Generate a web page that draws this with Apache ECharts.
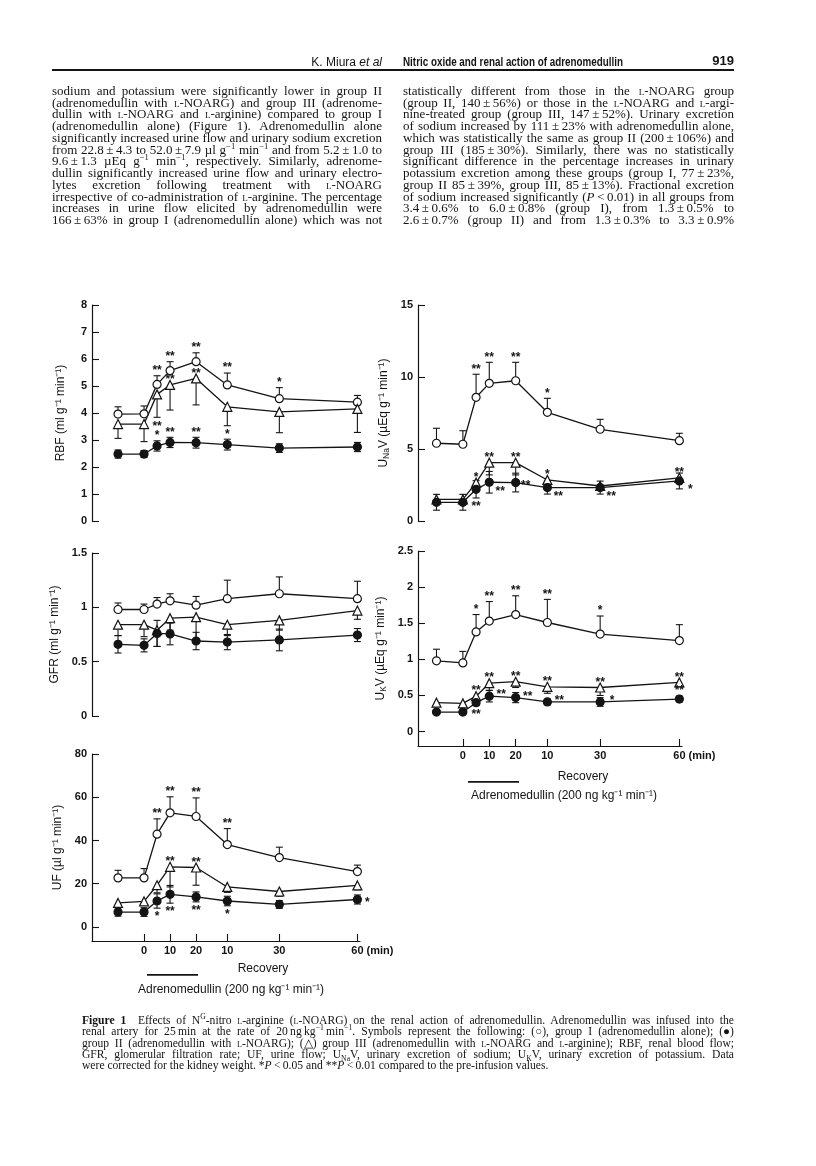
<!DOCTYPE html>
<html>
<head>
<meta charset="utf-8">
<script src="https://cdn.jsdelivr.net/npm/echarts@6/dist/echarts.min.js"></script>
<style>
html,body{margin:0;padding:0;background:#fff;}
#page{position:relative;width:816px;height:1166px;overflow:hidden;background:#fff;}
#chart{position:absolute;left:0;top:0;width:816px;height:1166px;}
.ln{position:absolute;white-space:nowrap;font-family:"Liberation Serif","Times New Roman",serif;color:#141414;}
.ln > span{white-space:nowrap;}
.body{font-size:13px;line-height:13px;}
.cap{font-size:11.6px;line-height:11.6px;}
.sc{font-variant:small-caps;}
sup,sub{font-size:0.66em;line-height:0;}
.hd{position:absolute;white-space:nowrap;font-family:"Liberation Sans Narrow","Liberation Sans",Arial,sans-serif;color:#141414;font-size:12px;line-height:12px;}
</style>
</head>
<body>
<div id="page">
<div id="chart"></div>
<div id="text"></div>
</div>
<script>
// ---------------- data ----------------
const timePoints  = [-10, 0, 5, 10, 20, 32, 52, 82];   // pre, infusion 0/5/10/20, recovery 10/30/60
const xTickValues = [0, 10, 20, 32, 52, 82];
const xTickLabels = ['0', '10', '20', '10', '30', '60'];

// RBF (ml g-1 min-1)
const rbfI      = [3.96, 3.97, 5.06, 5.57, 5.90, 5.04, 4.53, 4.40];
const rbfIErr   = [0.27, 0.29, 0.32, 0.33, 0.33, 0.44, 0.41, 0.25];
const rbfII     = [2.48, 2.48, 2.78, 2.91, 2.90, 2.83, 2.70, 2.74];
const rbfIIErr  = [0.15, 0.13, 0.19, 0.19, 0.20, 0.20, 0.16, 0.17];
const rbfIII    = [3.59, 3.59, 4.69, 5.04, 5.28, 4.23, 4.04, 4.15];
const rbfIIIErr = [0.53, 0.65, 0.85, 0.93, 0.98, 0.70, 0.77, 0.87];
const rbfStars  = [['I',2,'**','top'],['I',3,'**','top'],['I',4,'**','top'],['I',5,'**','top'],['I',6,'*','top'],
                   ['III',2,'**','bottom'],['III',3,'**','top'],['III',4,'**','top'],
                   ['II',2,'*','top'],['II',3,'**','top'],['II',4,'**','top'],['II',5,'*','top']];

// GFR (ml g-1 min-1)
const gfrI      = [0.98, 0.98, 1.03, 1.06, 1.02, 1.08, 1.125, 1.08];
const gfrIErr   = [0.06, 0.05, 0.06, 0.065, 0.08, 0.17, 0.155, 0.16];
const gfrII     = [0.66, 0.65, 0.76, 0.755, 0.69, 0.68, 0.70, 0.745];
const gfrIIErr  = [0.08, 0.06, 0.12, 0.10, 0.08, 0.07, 0.10, 0.06];
const gfrIII    = [0.84, 0.84, 0.79, 0.90, 0.91, 0.84, 0.88, 0.97];
const gfrIIIErr = [0.10, 0.11, 0.15, 0.11, 0.23, 0.10, 0.09, 0.08];
const gfrStars  = [];

// UF (µl g-1 min-1)
const ufI      = [22.7, 22.7, 42.9, 52.8, 51.1, 38.1, 32.1, 25.6];
const ufIErr   = [3.5, 4.3, 7.1, 7.4, 8.6, 7.4, 4.8, 3.0];
const ufII     = [6.9, 6.9, 12.0, 15.1, 13.9, 12.0, 10.4, 12.7];
const ufIIErr  = [1.9, 2.0, 3.3, 4.1, 2.3, 2.2, 1.8, 2.1];
const ufIII    = [11.1, 11.8, 19.3, 27.8, 27.5, 18.5, 16.4, 19.2];
const ufIIIErr = [1.5, 1.5, 3.5, 9.3, 8.2, 2.5, 2.2, 2.0];
const ufStars  = [['I',2,'**','top'],['I',3,'**','top'],['I',4,'**','top'],['I',5,'**','top'],
                  ['III',3,'**','top'],['III',4,'**','top'],
                  ['II',2,'*','bottom'],['II',3,'**','bottom'],['II',4,'**','bottom'],['II',5,'*','bottom'],['II',7,'*','e']];

// UNaV (µEq g-1 min-1)
const unaI      = [5.40, 5.33, 8.59, 9.56, 9.74, 7.55, 6.37, 5.58];
const unaIErr   = [1.04, 0.94, 1.60, 1.46, 1.28, 0.97, 0.69, 0.51];
const unaII     = [1.30, 1.30, 2.20, 2.69, 2.67, 2.32, 2.32, 2.78];
const unaIIErr  = [0.55, 0.55, 0.60, 0.75, 0.65, 0.45, 0.45, 0.55];
const unaIII    = [1.50, 1.50, 2.66, 4.05, 4.05, 2.85, 2.43, 3.00];
const unaIIIErr = [0.30, 0.30, 0.45, 0.85, 0.85, 0.35, 0.30, 0.35];
const unaStars  = [['I',2,'**','top'],['I',3,'**','top'],['I',4,'**','top'],['I',5,'*','top'],
                   ['III',2,'*','top'],['III',3,'**','top'],['III',4,'**','top'],['III',5,'*','top'],['III',7,'**','top'],
                   ['II',2,'**','bottom'],['II',3,'**','se'],['II',4,'**','e'],['II',5,'**','se'],['II',6,'**','se'],['II',7,'*','se']];

// UKV (µEq g-1 min-1)
const ukI      = [0.98, 0.95, 1.38, 1.53, 1.62, 1.51, 1.35, 1.26];
const ukIErr   = [0.16, 0.16, 0.24, 0.27, 0.26, 0.32, 0.25, 0.22];
const ukII     = [0.27, 0.27, 0.40, 0.49, 0.47, 0.41, 0.41, 0.45];
const ukIIErr  = [0.02, 0.02, 0.04, 0.08, 0.07, 0.04, 0.06, 0.04];
const ukIII    = [0.40, 0.39, 0.49, 0.67, 0.69, 0.62, 0.61, 0.68];
const ukIIIErr = [0.03, 0.03, 0.05, 0.10, 0.08, 0.09, 0.11, 0.03];
const ukStars  = [['I',2,'*','top'],['I',3,'**','top'],['I',4,'**','top'],['I',5,'**','top'],['I',6,'*','top'],
                  ['III',2,'**','top'],['III',3,'**','top'],['III',4,'**','top'],['III',5,'**','top'],['III',6,'**','top'],['III',7,'**','top'],
                  ['II',2,'**','bottom'],['II',3,'**','ne'],['II',4,'**','ne'],['II',5,'**','ne'],['II',6,'*','ne'],['II',7,'**','top']];

// ---------------- layout / style ----------------
const INK = '#141414';
const SANS = '"Liberation Sans", Arial, sans-serif';
const panels = [
  {grid:{left:92, top:305, width:268, height:216}, x:[-20,83], y:{min:0,max:8,interval:1}, showX:false,
   name:'RBF (ml g⁻¹ min⁻¹)', gap:25, vals:{I:rbfI,II:rbfII,III:rbfIII}, errs:{I:rbfIErr,II:rbfIIErr,III:rbfIIIErr}, stars:rbfStars},
  {grid:{left:92, top:553, width:268, height:163}, x:[-20,83], y:{min:0,max:1.5,interval:0.5}, showX:false,
   name:'GFR (ml g⁻¹ min⁻¹)', gap:31, vals:{I:gfrI,II:gfrII,III:gfrIII}, errs:{I:gfrIErr,II:gfrIIErr,III:gfrIIIErr}, stars:gfrStars},
  {grid:{left:92, top:754, width:268, height:187}, x:[-20,83], y:{min:-6.5,max:80,custom:[0,20,40,60,80]}, showX:true,
   name:'UF (µl g⁻¹ min⁻¹)', gap:28, vals:{I:ufI,II:ufII,III:ufIII}, errs:{I:ufIErr,II:ufIIErr,III:ufIIIErr}, stars:ufStars},
  {grid:{left:418, top:305, width:264, height:216}, x:[-17,83], y:{min:0,max:15,interval:5}, showX:false,
   name:'{u|U}{s|Na}{u|V (µEq g⁻¹ min⁻¹)}', gap:27, vals:{I:unaI,II:unaII,III:unaIII}, errs:{I:unaIErr,II:unaIIErr,III:unaIIIErr}, stars:unaStars},
  {grid:{left:418, top:551, width:264, height:195}, x:[-17,83], y:{min:-0.2,max:2.5,custom:[0,0.5,1,1.5,2,2.5]}, showX:true,
   name:'{u|U}{s|K}{u|V (µEq g⁻¹ min⁻¹)}', gap:30, vals:{I:ukI,II:ukII,III:ukIII}, errs:{I:ukIErr,II:ukIIErr,III:ukIIIErr}, stars:ukStars}
];
const groupStyle = {
  I:   {symbol:'circle',   size:8, fill:'#ffffff', dir:'up'},
  II:  {symbol:'circle',   size:8, fill:INK,       dir:'both'},
  III: {symbol:'triangle', size:9, fill:'#ffffff', dir:'down'}
};
const starOffset = { top:[0,-8], bottom:[0,6], e:[10,0], ne:[12,-4], se:[11,6] };

const grids = [], xAxes = [], yAxes = [], series = [];
panels.forEach((p, k) => {
  grids.push(Object.assign({containLabel:false}, p.grid));
  xAxes.push({
    type:'value', gridIndex:k, min:p.x[0], max:p.x[1], show:p.showX,
    axisLine:{show:true, onZero:false, lineStyle:{color:INK, width:1.2}},
    axisTick:{show:true, inside:true, length:7, customValues:xTickValues, lineStyle:{color:INK, width:1.1}},
    axisLabel:{show:true, customValues:xTickValues, margin:4, color:INK,
      formatter:(v)=>{ const i = xTickValues.findIndex(t=>Math.abs(t-v)<1e-6); const s = i<0?'':xTickLabels[i];
        return i===xTickValues.length-1 ? '{pad|}{b|'+s+'}{b| (min)}' : '{b|'+s+'}'; },
      rich:{b:{fontFamily:SANS, fontWeight:'bold', fontSize:11, color:INK}, pad:{width:30}}},
    splitLine:{show:false}
  });
  const ya = {
    type:'value', gridIndex:k, min:p.y.min, max:p.y.max,
    name:p.name, nameLocation:'middle', nameGap:p.gap, nameRotate:90,
    nameTextStyle:{fontFamily:SANS, fontSize:12, color:INK,
      rich:{u:{fontFamily:SANS, fontSize:12, color:INK, lineHeight:15},
            s:{fontFamily:SANS, fontSize:8.5, color:INK, lineHeight:9, padding:[6,0,0,0]}}},
    axisLine:{show:true, onZero:false, lineStyle:{color:INK, width:1.2}},
    axisTick:{show:true, inside:true, length:7, lineStyle:{color:INK, width:1.1}},
    axisLabel:{margin:5, fontFamily:SANS, fontWeight:'bold', fontSize:11, color:INK},
    splitLine:{show:false}
  };
  if (p.y.interval) ya.interval = p.y.interval;
  if (p.y.custom) { ya.axisTick.customValues = p.y.custom; ya.axisLabel.customValues = p.y.custom; }
  yAxes.push(ya);

  ['I','III','II'].forEach(g => {
    const gs = groupStyle[g], vals = p.vals[g], errs = p.errs[g];
    series.push({
      type:'custom', xAxisIndex:k, yAxisIndex:k, z:2, silent:true, clip:false,
      data: timePoints.map((t,i)=>[t, vals[i], errs[i]]),
      renderItem:(params, api)=>{
        const x = api.value(0), v = api.value(1), e = api.value(2);
        const c = api.coord([x, v]); const kids = []; const cap = 3.5;
        const st = {stroke:INK, lineWidth:1.1};
        const bar = (yv)=>{ const q = api.coord([x, yv]);
          kids.push({type:'line', shape:{x1:c[0],y1:c[1],x2:c[0],y2:q[1]}, style:st});
          kids.push({type:'line', shape:{x1:c[0]-cap,y1:q[1],x2:c[0]+cap,y2:q[1]}, style:st}); };
        if (gs.dir==='up'||gs.dir==='both') bar(v+e);
        if (gs.dir==='down'||gs.dir==='both') bar(v-e);
        return {type:'group', children:kids};
      }
    });
    series.push({
      type:'line', xAxisIndex:k, yAxisIndex:k, z:3, silent:true,
      data: timePoints.map((t,i)=>[t, vals[i]]),
      symbol:gs.symbol, symbolSize:gs.size, showAllSymbol:true,
      lineStyle:{color:INK, width:1.3},
      itemStyle:{color:gs.fill, borderColor:INK, borderWidth:1.2, opacity:1},
      emphasis:{disabled:true}
    });
  });

  if (p.stars.length) {
    const starData = p.stars.map(s=>{
      const [g,i,txt,pos] = s; const v = p.vals[g][i], e = p.errs[g][i], dir = groupStyle[g].dir;
      let yv = v;
      if (pos==='top' && (dir==='up'||dir==='both')) yv = v+e;
      if (pos==='bottom' && (dir==='down'||dir==='both')) yv = v-e;
      return [timePoints[i], yv];
    });
    series.push({
      type:'custom', xAxisIndex:k, yAxisIndex:k, z:5, silent:true, clip:false,
      data: starData,
      renderItem:(params, api)=>{
        const s = p.stars[params.dataIndex];
        const c = api.coord([api.value(0), api.value(1)]);
        const off = starOffset[s[3]];
        return {type:'text', x:c[0]+off[0], y:c[1]+off[1]+3,
          style:{text:s[2], fill:INK, font:'bold 12px '+SANS, align:'center', verticalAlign:'middle'}};
      }
    });
  }
});

const chart = echarts.init(document.getElementById('chart'), null, {renderer:'canvas', width:816, height:1166});
chart.setOption({
  animation:false,
  backgroundColor:'transparent',
  grid:grids, xAxis:xAxes, yAxis:yAxes, series:series,
  graphic:[
    {type:'text', x:263, y:969, style:{text:'Recovery', font:'12px '+SANS, fill:INK, align:'center', verticalAlign:'middle'}},
    {type:'rect', shape:{x:147, y:974, width:51, height:1.8}, style:{fill:INK}},
    {type:'text', x:231, y:990, style:{text:'Adrenomedullin (200 ng kg⁻¹ min⁻¹)', font:'12px '+SANS, fill:INK, align:'center', verticalAlign:'middle'}},
    {type:'text', x:583, y:777, style:{text:'Recovery', font:'12px '+SANS, fill:INK, align:'center', verticalAlign:'middle'}},
    {type:'rect', shape:{x:468, y:781, width:51, height:1.8}, style:{fill:INK}},
    {type:'text', x:564, y:796, style:{text:'Adrenomedullin (200 ng kg⁻¹ min⁻¹)', font:'12px '+SANS, fill:INK, align:'center', verticalAlign:'middle'}}
  ]
});

// ---------------- page text ----------------
const SC = '<span class="sc">l</span>';
const T = '\u2009';
const leftLines = [
  'sodium and potassium were significantly lower in group II',
  '(adrenomedullin with '+SC+'-NOARG) and group III (adrenome-',
  'dullin with '+SC+'-NOARG and '+SC+'-arginine) compared to group I',
  '(adrenomedullin alone) (Figure 1). Adrenomedullin alone',
  'significantly increased urine flow and urinary sodium excretion',
  'from 22.8'+T+'±'+T+'4.3 to 52.0'+T+'±'+T+'7.9 µl g<sup>−1</sup> min<sup>−1</sup> and from 5.2'+T+'±'+T+'1.0 to',
  '9.6'+T+'±'+T+'1.3 µEq g<sup>−1</sup> min<sup>−1</sup>, respectively. Similarly, adrenome-',
  'dullin significantly increased urine flow and urinary electro-',
  'lytes excretion following treatment with '+SC+'-NOARG',
  'irrespective of co-administration of '+SC+'-arginine. The percentage',
  'increases in urine flow elicited by adrenomedullin were',
  '166'+T+'±'+T+'63% in group I (adrenomedullin alone) which was not'
];
const rightLines = [
  'statistically different from those in the '+SC+'-NOARG group',
  '(group II, 140'+T+'±'+T+'56%) or those in the '+SC+'-NOARG and '+SC+'-argi-',
  'nine-treated group (group III, 147'+T+'±'+T+'52%). Urinary excretion',
  'of sodium increased by 111'+T+'±'+T+'23% with adrenomedullin alone,',
  'which was statistically the same as group II (200'+T+'±'+T+'106%) and',
  'group III (185'+T+'±'+T+'30%). Similarly, there was no statistically',
  'significant difference in the percentage increases in urinary',
  'potassium excretion among these groups (group I, 77'+T+'±'+T+'23%,',
  'group II 85'+T+'±'+T+'39%, group III, 85'+T+'±'+T+'13%). Fractional excretion',
  'of sodium increased significantly (<i>P</i>'+T+'&lt;'+T+'0.01) in all groups from',
  '3.4'+T+'±'+T+'0.6% to 6.0'+T+'±'+T+'0.8% (group I), from 1.3'+T+'±'+T+'0.5% to',
  '2.6'+T+'±'+T+'0.7% (group II) and from 1.3'+T+'±'+T+'0.3% to 3.3'+T+'±'+T+'0.9%'
];
const captionLines = [
  '<b>Figure 1</b>\u2003Effects of N<sup>G</sup>-nitro '+SC+'-arginine ('+SC+'-NOARG) on the renal action of adrenomedullin. Adrenomedullin was infused into the',
  'renal artery for 25'+T+'min at the rate of 20'+T+'ng'+T+'kg<sup>−1</sup>'+T+'min<sup>−1</sup>. Symbols represent the following: (○), group I (adrenomedullin alone); (●)',
  'group II (adrenomedullin with '+SC+'-NOARG); (△) group III (adrenomedullin with '+SC+'-NOARG and '+SC+'-arginine); RBF, renal blood flow;',
  'GFR, glomerular filtration rate; UF, urine flow; U<sub>Na</sub>V, urinary excretion of sodium; U<sub>K</sub>V, urinary excretion of potassium. Data',
  'were corrected for the kidney weight. *<i>P</i>'+T+'&lt;'+T+'0.05 and **<i>P</i>'+T+'&lt;'+T+'0.01 compared to the pre-infusion values.'
];

const host = document.getElementById('text');
function addLine(cls, html, left, top, width, justify){
  const d = document.createElement('div');
  d.className = 'ln ' + cls;
  d.style.left = left+'px'; d.style.top = top+'px';
  d.innerHTML = '<span>'+html+'</span>';
  host.appendChild(d);
  const sp = d.firstChild;
  const w = sp.getBoundingClientRect().width;
  if (w > width) {
    sp.style.display='inline-block'; sp.style.transformOrigin='0 0'; sp.style.transform='scaleX('+(width/w)+')';
  } else if (justify) {
    const n = (sp.textContent.match(/ /g)||[]).length;
    if (n>0) sp.style.wordSpacing = ((width-w)/n)+'px';
  }
}
leftLines.forEach((h,i)=>addLine('body', h, 52, 91.7+11.76*i-7.9, 330, true));
rightLines.forEach((h,i)=>addLine('body', h, 403, 91.7+11.76*i-7.9, 331, true));
const capY = [1022.2, 1033.4, 1044.6, 1055.8, 1067.0];
captionLines.forEach((h,i)=>addLine('cap', h, 82, capY[i]-7.0, 652, i<4));

// running header
function addHead(html, style){
  const d = document.createElement('div'); d.className='hd'; d.innerHTML = html;
  Object.assign(d.style, style); host.appendChild(d); return d;
}
addHead('K. Miura <i>et al</i>', {right:(816-382)+'px', top:'56px'});
const ttl = addHead('<span>Nitric oxide and renal action of adrenomedullin</span>', {left:'403px', top:'56px', fontWeight:'bold'});
(function(){ const sp = ttl.firstChild; sp.style.display='inline-block'; const w = sp.getBoundingClientRect().width;
  sp.style.transformOrigin='0 0'; sp.style.transform='scaleX('+(220/w)+')'; })();
addHead('919', {right:(816-734)+'px', top:'54px', fontFamily:SANS, fontWeight:'bold', fontSize:'13px', lineHeight:'13px'});
const rule = document.createElement('div');
Object.assign(rule.style, {position:'absolute', left:'52px', top:'69.3px', width:'682px', height:'1.6px', background:INK});
host.appendChild(rule);
</script>
</body>
</html>
